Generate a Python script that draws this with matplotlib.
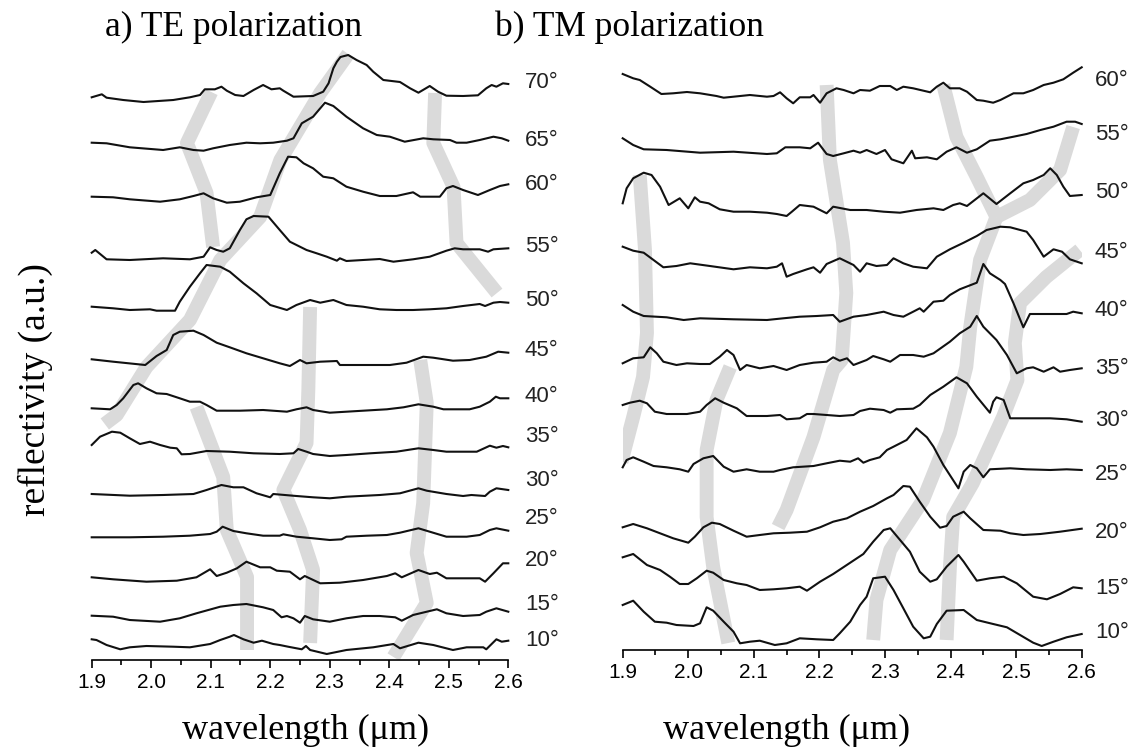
import matplotlib
matplotlib.use("Agg")
import matplotlib.pyplot as plt
from matplotlib.ticker import MultipleLocator, FormatStrFormatter

# ---- data: (wavelength in um, reflectivity a.u. relative to the curve offset) ----
angles_te = [10, 15, 20, 25, 30, 35, 40, 45, 50, 55, 60, 65, 70]
offsets_te = [20, 56, 99, 141, 179, 224, 263, 309, 359, 414, 475, 519, 577]

te10 = [(1.900, 0.7), (1.908, 0.0), (1.925, -5.0), (1.948, -9.3), (1.964, -7.3), (1.992, -6.0), (2.037, -6.7),
        (2.065, -7.3), (2.099, -4.0), (2.116, 0.0), (2.132, 3.3), (2.139, 5.0), (2.155, 0.7), (2.172, -2.7),
        (2.186, -0.7), (2.205, -4.0), (2.216, -5.0), (2.230, -6.7), (2.253, -9.3), (2.260, -6.0), (2.267, -10.0),
        (2.295, -14.0), (2.328, -10.0), (2.373, -7.3), (2.407, -4.0), (2.418, -8.3), (2.449, -2.7), (2.474, -5.0),
        (2.507, -10.0), (2.530, -7.3), (2.558, -7.3), (2.563, -9.3), (2.580, 0.7), (2.589, -1.7), (2.600, -0.7)]
te15 = [(1.900, -11.7), (1.936, -12.7), (1.964, -16.0), (2.015, -17.7), (2.048, -14.3), (2.076, -9.3), (2.116, -2.7),
        (2.138, -1.0), (2.160, 0.0), (2.188, -3.3), (2.205, -6.0), (2.219, -13.3), (2.228, -12.0), (2.239, -14.3),
        (2.250, -18.7), (2.258, -12.0), (2.272, -15.3), (2.300, -17.7), (2.328, -14.3), (2.356, -12.0), (2.384, -12.0),
        (2.410, -13.3), (2.421, -16.7), (2.440, -11.0), (2.463, -7.7), (2.480, -5.3), (2.496, -9.3), (2.524, -12.0),
        (2.552, -11.0), (2.563, -7.7), (2.580, -4.3), (2.600, -7.7)]
te20 = [(1.900, -16.3), (1.936, -18.3), (1.992, -20.7), (2.043, -19.7), (2.076, -16.3), (2.099, -8.3), (2.110, -15.0),
        (2.127, -11.7), (2.144, -7.3), (2.160, -0.7), (2.183, -6.3), (2.200, -6.3), (2.211, -9.7), (2.233, -10.7),
        (2.250, -18.3), (2.258, -15.0), (2.284, -22.3), (2.317, -21.7), (2.356, -19.0), (2.396, -15.0), (2.410, -12.3),
        (2.421, -16.3), (2.449, -9.0), (2.468, -13.0), (2.480, -11.7), (2.496, -17.3), (2.524, -17.3), (2.552, -17.3),
        (2.561, -20.7), (2.575, -12.3), (2.591, -2.3), (2.600, -2.3)]
te25 = [(1.900, -18.3), (1.964, -18.3), (2.020, -17.7), (2.065, -16.7), (2.099, -15.0), (2.110, -12.7), (2.120, -7.7),
        (2.138, -12.0), (2.160, -14.3), (2.188, -16.7), (2.216, -16.7), (2.222, -15.3), (2.244, -17.7), (2.272, -19.3),
        (2.300, -21.0), (2.320, -20.3), (2.328, -17.7), (2.362, -16.7), (2.396, -16.0), (2.418, -13.7), (2.449, -9.3),
        (2.468, -12.7), (2.496, -17.7), (2.530, -17.7), (2.552, -16.0), (2.569, -11.0), (2.580, -9.3), (2.600, -11.7)]
te30 = [(1.900, -13.0), (1.964, -14.7), (2.020, -14.0), (2.071, -13.0), (2.093, -9.0), (2.118, -4.0), (2.138, -6.3),
        (2.155, -6.3), (2.177, -12.3), (2.200, -16.3), (2.205, -13.0), (2.244, -15.0), (2.272, -16.3), (2.300, -17.3),
        (2.328, -15.7), (2.384, -14.0), (2.418, -12.3), (2.449, -7.3), (2.463, -9.7), (2.496, -13.0), (2.524, -15.0),
        (2.538, -14.0), (2.561, -15.0), (2.569, -10.7), (2.580, -7.3), (2.600, -9.0)]
te35 = [(1.900, -9.0), (1.914, -0.7), (1.934, 4.3), (1.948, 3.3), (1.964, -2.3), (1.981, -8.0), (1.998, -5.7),
        (2.015, -9.0), (2.032, -11.7), (2.043, -12.3), (2.051, -18.3), (2.065, -18.0), (2.093, -15.0), (2.132, -15.7),
        (2.172, -17.3), (2.216, -18.0), (2.239, -17.3), (2.247, -13.0), (2.261, -15.7), (2.272, -18.0), (2.300, -20.0),
        (2.328, -19.0), (2.368, -17.3), (2.412, -15.7), (2.449, -12.3), (2.474, -14.0), (2.496, -15.7), (2.547, -15.7),
        (2.569, -9.7), (2.580, -11.7), (2.591, -10.0), (2.600, -11.3)]
te40 = [(1.900, -11.3), (1.931, -12.3), (1.942, -8.0), (1.953, -1.3), (1.970, 12.0), (1.978, 13.7), (1.992, 8.7),
        (2.009, 3.7), (2.026, 3.0), (2.048, -1.3), (2.065, -4.7), (2.082, -4.7), (2.093, -8.0), (2.110, -13.7),
        (2.149, -13.7), (2.188, -13.0), (2.228, -14.7), (2.244, -12.3), (2.261, -10.3), (2.272, -13.0), (2.300, -15.7),
        (2.328, -14.7), (2.356, -13.7), (2.396, -12.3), (2.424, -10.3), (2.449, -7.3), (2.474, -9.7), (2.491, -12.3),
        (2.535, -12.3), (2.552, -9.7), (2.569, -4.7), (2.579, 0.3), (2.586, -1.3), (2.600, -1.3)]
te45 = [(1.900, -8.3), (1.936, -10.7), (1.990, -14.0), (2.009, -5.0), (2.026, 1.0), (2.037, 16.0), (2.048, 19.3),
        (2.071, 20.3), (2.088, 16.0), (2.110, 8.3), (2.132, 3.7), (2.160, -2.3), (2.188, -7.3), (2.216, -12.3),
        (2.233, -15.0), (2.250, -9.0), (2.261, -12.3), (2.284, -10.7), (2.312, -10.0), (2.317, -14.0), (2.356, -14.0),
        (2.401, -14.0), (2.429, -11.7), (2.457, -5.7), (2.474, -6.7), (2.507, -9.7), (2.535, -9.0), (2.563, -5.7),
        (2.583, -0.7), (2.600, -1.7)]
te50 = [(1.900, -5.7), (1.936, -7.3), (1.964, -9.0), (1.998, -8.3), (2.009, -9.7), (2.040, -9.7), (2.048, -0.7),
        (2.065, 14.3), (2.082, 27.7), (2.093, 36.0), (2.116, 34.3), (2.132, 29.3), (2.155, 17.7), (2.177, 7.7),
        (2.200, -4.0), (2.228, -9.0), (2.244, -4.0), (2.267, 1.0), (2.284, -1.7), (2.306, 1.0), (2.328, -4.0),
        (2.356, -5.7), (2.384, -8.3), (2.412, -9.0), (2.440, -9.0), (2.468, -8.3), (2.496, -7.3), (2.524, -5.0),
        (2.552, -3.0), (2.561, -5.0), (2.575, -1.7), (2.586, -1.0), (2.600, -1.7)]
te55 = [(1.900, -6.7), (1.906, -4.0), (1.925, -13.3), (1.964, -14.0), (2.020, -12.3), (2.065, -13.3), (2.088, -10.7),
        (2.099, -1.3), (2.110, -4.0), (2.121, -5.7), (2.132, -2.3), (2.149, 16.0), (2.160, 26.7), (2.172, 30.0),
        (2.197, 29.3), (2.216, 16.0), (2.233, 4.3), (2.261, -4.0), (2.278, -7.3), (2.295, -10.7), (2.312, -14.7),
        (2.317, -12.3), (2.328, -15.0), (2.356, -14.0), (2.384, -13.0), (2.407, -15.7), (2.440, -13.3), (2.468, -10.7),
        (2.496, -4.7), (2.510, -2.3), (2.524, -3.3), (2.552, -3.3), (2.566, -5.7), (2.575, -3.3), (2.600, -2.3)]
te60 = [(1.900, -11.7), (1.936, -12.3), (1.964, -14.3), (2.015, -16.7), (2.048, -14.3), (2.071, -11.0), (2.088, -8.3),
        (2.104, -13.3), (2.127, -17.7), (2.149, -16.7), (2.177, -12.3), (2.200, -10.0), (2.216, 11.7), (2.230, 28.3),
        (2.244, 27.7), (2.256, 21.7), (2.272, 16.7), (2.289, 8.3), (2.306, 6.7), (2.328, -1.7), (2.356, -6.7),
        (2.384, -11.0), (2.412, -11.0), (2.440, -7.3), (2.452, -11.7), (2.485, -11.7), (2.496, -3.3), (2.507, -1.0),
        (2.524, -5.0), (2.549, -10.0), (2.569, -5.0), (2.586, -1.0), (2.600, 0.7)]
te65 = [(1.900, -1.7), (1.925, -2.3), (1.964, -6.3), (2.020, -9.0), (2.048, -6.3), (2.071, -9.0), (2.088, -9.7),
        (2.104, -7.3), (2.132, -4.0), (2.160, -1.7), (2.183, -2.3), (2.205, -1.7), (2.228, 0.3), (2.239, 2.7),
        (2.253, 17.7), (2.272, 24.3), (2.292, 38.3), (2.306, 35.0), (2.328, 24.3), (2.356, 12.7), (2.379, 6.0),
        (2.401, 4.3), (2.426, -0.7), (2.457, 2.7), (2.474, 1.7), (2.502, 1.0), (2.513, -1.7), (2.530, -1.7),
        (2.552, 1.0), (2.575, 4.3), (2.589, 2.7), (2.600, 0.3)]
te70 = [(1.900, -14.3), (1.917, -11.3), (1.925, -14.7), (1.953, -17.0), (1.987, -19.0), (2.037, -17.0), (2.065, -14.3),
        (2.082, -12.0), (2.090, -6.3), (2.107, -6.3), (2.118, -3.7), (2.127, -7.7), (2.141, -12.0), (2.155, -13.0),
        (2.172, -7.0), (2.188, -2.0), (2.202, -6.3), (2.216, -5.3), (2.222, -7.7), (2.239, -13.7), (2.272, -13.0),
        (2.289, -8.7), (2.298, -0.3), (2.306, 14.7), (2.312, 21.3), (2.318, 26.0), (2.331, 28.0), (2.345, 23.0),
        (2.362, 18.0), (2.373, 11.3), (2.390, 3.0), (2.418, 1.0), (2.435, -5.3), (2.449, -9.7), (2.468, -3.0),
        (2.482, -8.7), (2.496, -12.7), (2.524, -13.0), (2.549, -12.3), (2.563, -5.3), (2.572, -2.0), (2.580, -3.7),
        (2.591, -0.3), (2.600, -1.0)]

angles_tm = [10, 15, 20, 25, 30, 35, 40, 45, 50, 55, 60]
offsets_tm = [20, 70, 122, 177, 233, 291, 352, 407, 462, 517, 572]
label_shift_tm = [2, 8, 4, 2, 3, 9, 12, 10, 4, 2, 2]

tm10 = [(1.900, 25.0), (1.916, 29.3), (1.932, 18.3), (1.949, 8.3), (1.967, 7.3), (1.982, 5.0), (2.008, 4.0),
        (2.018, 6.7), (2.028, 22.7), (2.038, 19.3), (2.054, 8.3), (2.069, -1.7), (2.079, -13.3), (2.094, -11.7),
        (2.109, -10.7), (2.132, -15.0), (2.150, -13.3), (2.170, -8.3), (2.196, -9.3), (2.221, -10.0), (2.231, -3.3),
        (2.247, 8.3), (2.262, 25.0), (2.272, 33.3), (2.282, 51.7), (2.300, 53.3), (2.313, 40.0), (2.328, 21.7),
        (2.343, 3.3), (2.359, -8.3), (2.369, -6.7), (2.379, 6.0), (2.394, 19.3), (2.420, 20.0), (2.440, 10.0),
        (2.465, 6.0), (2.486, 2.7), (2.506, -5.0), (2.526, -12.7), (2.539, -16.0), (2.557, -11.7), (2.577, -7.3),
        (2.600, -4.0)]
tm15 = [(1.900, 22.7), (1.916, 26.0), (1.937, 15.0), (1.957, 10.0), (1.972, 3.3), (1.987, -4.0), (2.000, -4.0),
        (2.013, 1.7), (2.028, 9.3), (2.038, 7.3), (2.054, 0.0), (2.074, -3.3), (2.089, -5.0), (2.109, -10.0),
        (2.130, -9.3), (2.150, -8.3), (2.170, -6.7), (2.181, -10.7), (2.201, -1.7), (2.221, 6.0), (2.247, 17.3),
        (2.267, 26.0), (2.282, 38.3), (2.298, 50.0), (2.308, 51.7), (2.323, 40.0), (2.338, 28.3), (2.353, 8.3),
        (2.369, -1.7), (2.379, 0.7), (2.394, 13.3), (2.412, 25.0), (2.420, 18.3), (2.440, -0.7), (2.460, 1.7),
        (2.481, 3.3), (2.501, -3.3), (2.526, -16.7), (2.547, -19.3), (2.567, -14.0), (2.587, -7.3), (2.600, -8.3)]
tm20 = [(1.900, 0.7), (1.916, 4.0), (1.937, -0.3), (1.957, -5.3), (1.977, -10.3), (2.000, -14.7), (2.010, -8.7),
        (2.023, 0.7), (2.036, 5.3), (2.048, 4.0), (2.069, -2.7), (2.089, -8.7), (2.109, -7.0), (2.130, -5.3),
        (2.155, -4.7), (2.181, -3.7), (2.201, 0.7), (2.221, 6.3), (2.242, 9.7), (2.262, 16.3), (2.282, 22.0),
        (2.303, 29.7), (2.313, 33.0), (2.328, 42.0), (2.338, 41.3), (2.353, 26.3), (2.369, 11.3), (2.384, 0.3),
        (2.394, 2.0), (2.404, 11.3), (2.420, 16.3), (2.430, 9.7), (2.450, -2.0), (2.476, -2.7), (2.491, -5.3),
        (2.511, -7.0), (2.537, -6.0), (2.567, -3.7), (2.600, -0.7)]
tm25 = [(1.900, 5.7), (1.906, 13.0), (1.916, 15.7), (1.932, 11.3), (1.947, 7.0), (1.967, 5.7), (1.987, 3.7),
        (2.000, 1.3), (2.008, 9.0), (2.023, 14.7), (2.038, 17.0), (2.054, 6.3), (2.069, 1.3), (2.089, 3.7),
        (2.109, 1.3), (2.130, 1.3), (2.140, 3.0), (2.160, 5.7), (2.191, 7.0), (2.211, 9.7), (2.231, 12.3),
        (2.247, 11.3), (2.259, 14.7), (2.267, 10.3), (2.277, 13.0), (2.292, 15.7), (2.303, 23.0), (2.313, 26.3),
        (2.333, 33.0), (2.348, 44.7), (2.364, 35.7), (2.374, 26.3), (2.389, 8.0), (2.412, -15.3), (2.420, 1.3),
        (2.430, 8.0), (2.440, 4.7), (2.450, -4.3), (2.460, 3.7), (2.491, 4.7), (2.516, 3.7), (2.552, 3.0),
        (2.577, 3.7), (2.600, 3.0)]
tm30 = [(1.900, 12.0), (1.911, 14.3), (1.926, 16.3), (1.937, 13.7), (1.949, 5.3), (1.967, 3.0), (1.998, 3.0),
        (2.018, 5.3), (2.028, 12.0), (2.041, 18.7), (2.054, 14.3), (2.074, 8.7), (2.089, 1.0), (2.120, 1.0),
        (2.140, 2.0), (2.150, -2.3), (2.170, -1.3), (2.181, 3.0), (2.191, 3.0), (2.211, 2.0), (2.231, 1.0),
        (2.252, 2.0), (2.262, 6.0), (2.277, 8.3), (2.298, 7.0), (2.308, 4.3), (2.318, 7.7), (2.343, 8.3),
        (2.353, 12.0), (2.369, 22.0), (2.389, 30.3), (2.409, 39.7), (2.425, 33.7), (2.440, 20.3), (2.460, 4.3),
        (2.465, 15.3), (2.470, 19.7), (2.481, 17.0), (2.491, -1.3), (2.516, -1.3), (2.552, -1.3), (2.577, -2.3),
        (2.600, -4.7)]
tm35 = [(1.900, -4.3), (1.916, 0.7), (1.932, 1.7), (1.942, 11.7), (1.952, 5.7), (1.962, -2.7), (1.982, -6.0),
        (1.998, -4.3), (2.018, -5.0), (2.033, -5.0), (2.048, 2.3), (2.059, 9.0), (2.069, 4.0), (2.079, -11.0),
        (2.089, -6.0), (2.109, -9.3), (2.130, -7.0), (2.150, -11.0), (2.170, -6.0), (2.191, -3.7), (2.211, -2.7),
        (2.221, 1.7), (2.231, -1.7), (2.242, 0.7), (2.252, -6.0), (2.272, -1.0), (2.282, 3.0), (2.298, -0.3),
        (2.308, -2.7), (2.323, 4.0), (2.343, 4.0), (2.359, 2.3), (2.374, 5.7), (2.399, 17.3), (2.414, 25.7),
        (2.430, 32.3), (2.440, 43.0), (2.450, 32.3), (2.470, 19.0), (2.486, 4.0), (2.501, -14.3), (2.516, -9.3),
        (2.526, -8.3), (2.542, -12.7), (2.557, -8.3), (2.567, -12.7), (2.582, -11.0), (2.600, -9.3)]
tm40 = [(1.900, -7.0), (1.916, -13.7), (1.932, -18.0), (1.967, -19.3), (1.993, -22.0), (2.018, -20.3), (2.069, -21.3),
        (2.120, -22.0), (2.145, -20.3), (2.170, -18.7), (2.196, -18.0), (2.221, -17.0), (2.231, -23.7), (2.252, -18.7),
        (2.272, -17.0), (2.298, -13.7), (2.313, -17.0), (2.328, -18.7), (2.343, -13.7), (2.353, -10.3), (2.359, -13.7),
        (2.374, -3.7), (2.389, -2.7), (2.399, 3.0), (2.414, 8.7), (2.440, 15.3), (2.450, 34.0), (2.460, 24.7),
        (2.476, 18.0), (2.483, 14.0), (2.496, -5.3), (2.511, -29.3), (2.521, -16.0), (2.552, -16.0), (2.577, -16.0),
        (2.587, -13.7), (2.600, -15.3)]
tm45 = [(1.900, -3.7), (1.916, -7.7), (1.932, -9.7), (1.962, -24.3), (1.982, -23.0), (2.003, -20.3), (2.033, -23.0),
        (2.069, -26.3), (2.094, -24.3), (2.120, -25.3), (2.135, -23.7), (2.143, -20.3), (2.150, -33.7), (2.160, -31.0),
        (2.181, -26.3), (2.191, -24.3), (2.201, -29.7), (2.211, -21.0), (2.231, -15.3), (2.252, -22.0), (2.262, -28.7),
        (2.272, -20.3), (2.287, -23.0), (2.303, -22.0), (2.313, -15.3), (2.328, -20.3), (2.343, -23.7), (2.364, -25.3),
        (2.379, -13.7), (2.399, -6.3), (2.420, 0.3), (2.440, 7.0), (2.455, 13.0), (2.476, 16.3), (2.491, 15.7),
        (2.516, 11.3), (2.526, 3.0), (2.542, -13.7), (2.557, -6.3), (2.570, -8.7), (2.582, -16.3), (2.600, -20.3)]
tm50 = [(1.900, -15.3), (1.906, -0.3), (1.916, 9.7), (1.932, 15.3), (1.944, 13.0), (1.957, 1.3), (1.970, -17.0),
        (1.987, -10.3), (2.000, -20.3), (2.010, -9.3), (2.018, -13.7), (2.031, -15.3), (2.048, -21.3), (2.069, -23.7),
        (2.094, -23.7), (2.120, -24.7), (2.135, -26.0), (2.150, -28.0), (2.158, -23.7), (2.170, -17.0), (2.191, -18.7),
        (2.211, -25.3), (2.221, -18.7), (2.247, -22.0), (2.272, -22.0), (2.298, -23.7), (2.323, -24.7), (2.348, -22.0),
        (2.374, -20.3), (2.389, -22.0), (2.404, -17.0), (2.414, -15.3), (2.425, -18.0), (2.450, -5.3), (2.470, -16.0),
        (2.491, -5.3), (2.511, 4.7), (2.526, 8.0), (2.542, 13.0), (2.552, 19.7), (2.562, 13.0), (2.572, 1.3),
        (2.582, -8.0), (2.600, -7.0)]
tm55 = [(1.900, -5.3), (1.916, -12.0), (1.932, -16.3), (1.967, -17.0), (2.018, -19.7), (2.069, -18.7), (2.120, -21.0),
        (2.135, -20.3), (2.148, -14.3), (2.170, -14.3), (2.186, -15.3), (2.198, -9.7), (2.211, -21.0), (2.221, -23.0),
        (2.237, -20.3), (2.252, -17.7), (2.262, -19.7), (2.272, -17.0), (2.287, -21.0), (2.300, -17.0), (2.310, -26.3),
        (2.328, -30.3), (2.341, -17.7), (2.346, -25.3), (2.364, -24.3), (2.379, -26.3), (2.394, -18.7), (2.409, -14.3),
        (2.425, -19.7), (2.440, -16.3), (2.460, -7.7), (2.476, -6.3), (2.496, -3.7), (2.516, -1.0), (2.537, 3.0),
        (2.557, 6.3), (2.577, 11.3), (2.590, 11.3), (2.600, 9.0)]
tm60 = [(1.900, 4.0), (1.916, -0.3), (1.926, -2.0), (1.942, -8.7), (1.959, -16.0), (1.977, -15.3), (1.998, -14.0),
        (2.018, -15.3), (2.043, -18.0), (2.054, -19.7), (2.069, -18.7), (2.094, -17.0), (2.120, -18.7), (2.130, -18.0),
        (2.140, -14.3), (2.150, -20.3), (2.160, -25.3), (2.170, -19.3), (2.186, -19.3), (2.191, -17.0), (2.201, -24.7),
        (2.211, -15.3), (2.226, -10.3), (2.237, -12.0), (2.252, -15.3), (2.262, -12.0), (2.277, -12.7), (2.292, -8.0),
        (2.308, -8.0), (2.318, -12.0), (2.328, -8.7), (2.343, -10.3), (2.369, -14.3), (2.379, -8.7), (2.389, -4.7),
        (2.399, -10.3), (2.414, -10.3), (2.425, -13.7), (2.440, -22.0), (2.450, -22.7), (2.465, -24.7), (2.476, -22.0),
        (2.496, -15.3), (2.511, -15.3), (2.526, -12.0), (2.542, -7.0), (2.557, -4.7), (2.572, -1.3), (2.587, 5.3),
        (2.600, 10.7)]

# grey guide-to-the-eye bands (wavelength, a.u.)
te_guides = [
    [(2.101, 568), (2.060, 517), (2.093, 467), (2.104, 413)],
    [(2.331, 606), (2.284, 567), (2.217, 500), (2.183, 443), (2.116, 400), (2.065, 340), (1.992, 293),
     (1.942, 245), (1.922, 236)],
    [(2.477, 567), (2.474, 517), (2.508, 473), (2.513, 417), (2.581, 367)],
    [(2.267, 353), (2.264, 270), (2.261, 217), (2.222, 170), (2.250, 130), (2.272, 90), (2.267, 17)],
    [(2.452, 300), (2.463, 257), (2.457, 157), (2.446, 107), (2.463, 57), (2.407, 3)],
    [(2.076, 253), (2.121, 183), (2.127, 130), (2.161, 83), (2.161, 10)],
]
tm_guides = [
    [(1.926, 475), (1.934, 400), (1.937, 317), (1.931, 273), (1.916, 233), (1.898, 188)],
    [(2.064, 283), (2.043, 250), (2.028, 200), (2.028, 133), (2.038, 83), (2.061, 7)],
    [(2.211, 565), (2.216, 490), (2.236, 407), (2.241, 357), (2.234, 290), (2.221, 280), (2.191, 213),
     (2.150, 140), (2.137, 123)],
    [(2.389, 565), (2.409, 513), (2.440, 473), (2.470, 433)],
    [(2.587, 523), (2.567, 480), (2.521, 450), (2.470, 433)],
    [(2.470, 433), (2.445, 390), (2.430, 323), (2.424, 283), (2.399, 217), (2.358, 150), (2.308, 100),
     (2.287, 50), (2.282, 10)],
    [(2.597, 400), (2.546, 373), (2.506, 347), (2.498, 307), (2.502, 270), (2.480, 233), (2.434, 167),
     (2.404, 133), (2.399, 83), (2.394, 10)],
]

curves_te = [te10, te15, te20, te25, te30, te35, te40, te45, te50, te55, te60, te65, te70]
curves_tm = [tm10, tm15, tm20, tm25, tm30, tm35, tm40, tm45, tm50, tm55, tm60]

W, H = 1135, 755
fig = plt.figure(figsize=(W / 100, H / 100), dpi=100)
fig.patch.set_facecolor("white")

SERIF = "Liberation Serif"
SANS = "Liberation Sans"


def draw_panel(ax, curves, offsets, angles, guides, top, label_x, shifts):
    for g in guides:
        ax.plot([p[0] for p in g], [p[1] for p in g], color="#dadada", lw=10,
                solid_capstyle="butt", solid_joinstyle="round", zorder=1)
    for c, off, ang, sh in zip(curves, offsets, angles, shifts):
        ax.plot([p[0] for p in c], [p[1] + off for p in c], color="#111111", lw=1.5,
                zorder=3, clip_on=False)
        ax.text(label_x, off - sh, f"{ang}\u00b0", fontsize=16, family=SANS,
                ha="left", va="center", color="#222222")
    ax.set_xlim(1.9, 2.6)
    ax.set_ylim(0, top)
    for s in ["left", "top", "right"]:
        ax.spines[s].set_visible(False)
    ax.spines["bottom"].set_linewidth(1.2)
    ax.set_yticks([])
    ax.xaxis.set_major_locator(MultipleLocator(0.1))
    ax.xaxis.set_minor_locator(MultipleLocator(0.05))
    ax.xaxis.set_major_formatter(FormatStrFormatter("%.1f"))
    ax.tick_params(axis="x", which="major", direction="out", length=6, width=1.2,
                   labelsize=15, pad=3)
    ax.tick_params(axis="x", which="minor", direction="out", length=3.5, width=1.2)
    for t in ax.get_xticklabels():
        t.set_family(SANS)
    ax.patch.set_visible(False)


# panel a
ax1 = fig.add_axes([91.7 / W, (H - 660) / H, (508.3 - 91.7) / W, 620 / H])
draw_panel(ax1, curves_te, offsets_te, angles_te, te_guides, 620, 2.628, [0] * len(angles_te))

# panel b
ax2 = fig.add_axes([622.7 / W, (H - 650) / H, (1081.7 - 622.7) / W, 610 / H])
draw_panel(ax2, curves_tm, offsets_tm, angles_tm, tm_guides, 610, 2.620, label_shift_tm)

fig.text(105 / W, 1 - 27 / H, "a) TE polarization", family=SERIF, fontsize=25.5, ha="left", va="center")
fig.text(495 / W, 1 - 27 / H, "b) TM polarization", family=SERIF, fontsize=25.5, ha="left", va="center")
fig.text(306 / W, 1 - 730 / H, "wavelength (\u03bcm)", family=SERIF, fontsize=26, ha="center", va="center")
fig.text(787 / W, 1 - 730 / H, "wavelength (\u03bcm)", family=SERIF, fontsize=26, ha="center", va="center")
fig.text(35 / W, 1 - 390 / H, "reflectivity (a.u.)", family=SERIF, fontsize=27, rotation=90,
         ha="center", va="center")

fig.savefig("out.png", dpi=100)
